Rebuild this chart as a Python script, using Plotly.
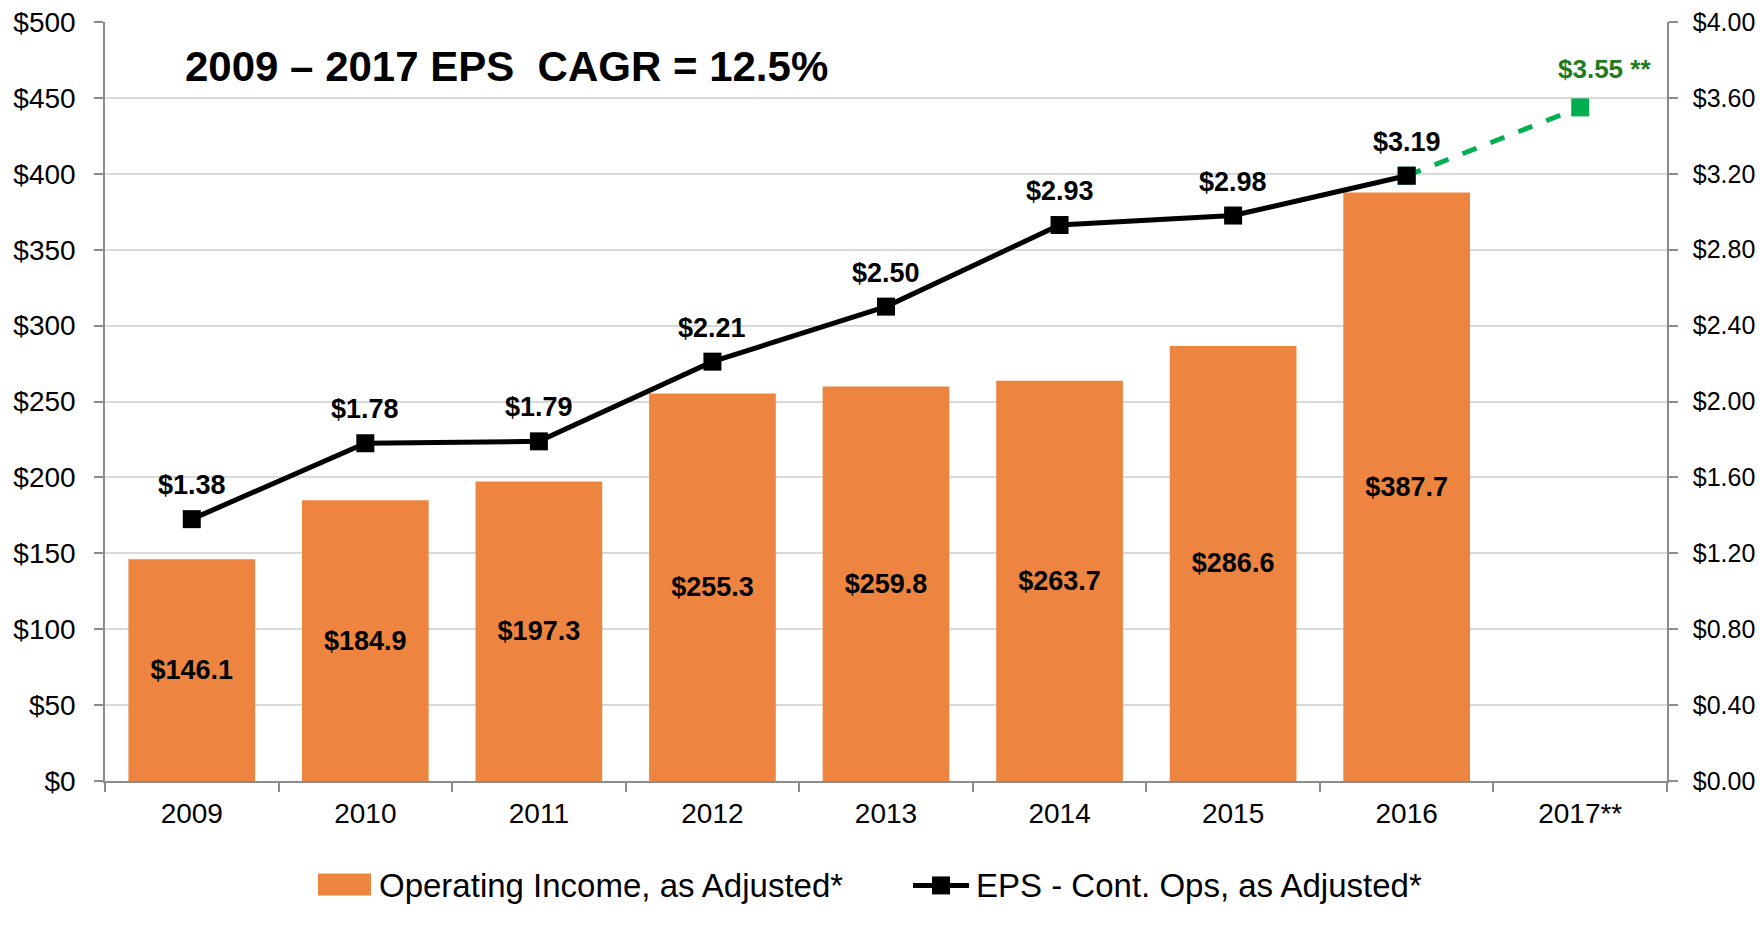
import plotly.graph_objects as go

years = ["2009", "2010", "2011", "2012", "2013", "2014", "2015", "2016", "2017**"]
op_income = [146.1, 184.9, 197.3, 255.3, 259.8, 263.7, 286.6, 387.7]
eps = [1.38, 1.78, 1.79, 2.21, 2.50, 2.93, 2.98, 3.19]
eps_2017 = 3.55
y_left_ticks = [0, 50, 100, 150, 200, 250, 300, 350, 400, 450, 500]
y_right_ticks = [0, 0.4, 0.8, 1.2, 1.6, 2.0, 2.4, 2.8, 3.2, 3.6, 4.0]
bar_name = "Operating Income, as Adjusted*"
line_name = "EPS - Cont. Ops, as Adjusted*"

FONT = "Liberation Sans, Arial, sans-serif"
ORANGE = "#ED8540"
GREEN = "#00B050"
DKGREEN = "#1E7B1E"
GRID = "#D9D9D9"
AXIS = "#8C8C8C"

# page body has an 8px margin on every side; keep the figure inside the window
BODY = 8
W, H = 1763 - 2 * BODY, 934 - 2 * BODY
PL, PR, PT, PB = 105, 1667, 22, 781.5   # target plot area in window pixels


def px(x):
    return (x - PL) / (PR - PL)


def py(y):
    return (PB - y) / (PB - PT)


fig = go.Figure()

fig.add_trace(go.Bar(
    x=years[:8], y=op_income, name=bar_name,
    marker=dict(color=ORANGE, line=dict(width=0)),
    text=[f"<b>${v:.1f}</b>" for v in op_income],
    textposition="inside", insidetextanchor="middle",
    textfont=dict(family=FONT, size=27, color="black"),
    yaxis="y", showlegend=False,
))

fig.add_trace(go.Scatter(
    x=[years[7], years[8]], y=[eps[7], eps_2017], mode="lines+markers",
    line=dict(color=GREEN, width=5, dash="dash"),
    marker=dict(symbol="square", size=18, color=GREEN),
    showlegend=False, yaxis="y2",
))

fig.add_trace(go.Scatter(
    x=years[:8], y=eps, mode="lines+markers", name=line_name,
    line=dict(color="black", width=5),
    marker=dict(symbol="square", size=18, color="black"),
    yaxis="y2", showlegend=False,
))

annotations = []
for i, v in enumerate(eps):
    annotations.append(dict(
        x=i, y=v, xref="x", yref="y2", text=f"<b>${v:.2f}</b>",
        showarrow=False, yshift=34, font=dict(family=FONT, size=27, color="black"),
    ))
annotations.append(dict(
    x=8, y=eps_2017, xref="x", yref="y2",
    text=f"<b>${eps_2017:.2f} **</b>",
    showarrow=False, yshift=38, xshift=24,
    font=dict(family=FONT, size=26, color=DKGREEN),
))
annotations.append(dict(
    x=px(183), y=py(67), xref="paper", yref="paper", xanchor="left", yanchor="middle",
    text="<b>2009 \u2013 2017 EPS  CAGR = 12.5%</b>", showarrow=False,
    font=dict(family=FONT, size=42, color="black"),
))
# legend texts
annotations.append(dict(
    x=px(377), y=py(886), xref="paper", yref="paper", xanchor="left", yanchor="middle",
    text=bar_name, showarrow=False, font=dict(family=FONT, size=33, color="black"),
))
annotations.append(dict(
    x=px(974), y=py(886), xref="paper", yref="paper", xanchor="left", yanchor="middle",
    text=line_name, showarrow=False, font=dict(family=FONT, size=33, color="black"),
))

shapes = [
    dict(type="rect", xref="paper", yref="paper", x0=px(318), x1=px(371),
         y0=py(896), y1=py(874), fillcolor=ORANGE, line=dict(width=0)),
    dict(type="line", xref="paper", yref="paper", x0=px(913), x1=px(969),
         y0=py(886), y1=py(886), line=dict(color="black", width=5)),
    dict(type="rect", xref="paper", yref="paper", x0=px(932), x1=px(950),
         y0=py(895), y1=py(877), fillcolor="black", line=dict(width=0)),
]

fig.update_layout(
    width=W, height=H,
    margin=dict(l=PL - BODY, r=(BODY + W) - PR, t=PT - BODY, b=(BODY + H) - PB,
                autoexpand=False),
    paper_bgcolor="white", plot_bgcolor="white",
    font=dict(family=FONT, size=26, color="black"),
    bargap=0.27,
    showlegend=False,
    xaxis=dict(
        type="category", categoryorder="array", categoryarray=years,
        range=[-0.5, 8.5], tickson="boundaries", ticks="outside", ticklen=9,
        tickcolor=AXIS, tickwidth=1.5, showline=True, linecolor=AXIS, linewidth=1.5,
        showgrid=False, tickfont=dict(family=FONT, size=28, color="black"),
        ticklabelstandoff=7, automargin=False,
    ),
    yaxis=dict(
        range=[0, 500], tickvals=y_left_ticks, ticktext=[f"${v}" for v in y_left_ticks],
        ticks="outside", ticklen=9, tickcolor=AXIS, tickwidth=1.5,
        showline=True, linecolor=AXIS, linewidth=1.5,
        showgrid=True, gridcolor=GRID, gridwidth=1.5, zeroline=False,
        tickfont=dict(family=FONT, size=28, color="black"), ticklabelstandoff=13,
        ticklabeloverflow="allow", automargin=False,
    ),
    yaxis2=dict(
        range=[0, 4], tickvals=y_right_ticks, ticktext=[f"${v:.2f}" for v in y_right_ticks],
        overlaying="y", side="right",
        ticks="outside", ticklen=9, tickcolor=AXIS, tickwidth=1.5,
        showline=True, linecolor=AXIS, linewidth=1.5,
        showgrid=False, zeroline=False,
        tickfont=dict(family=FONT, size=25, color="black"), ticklabelstandoff=10,
        ticklabeloverflow="allow", automargin=False,
    ),
    annotations=annotations,
    shapes=shapes,
)

fig.write_html("out.html")
